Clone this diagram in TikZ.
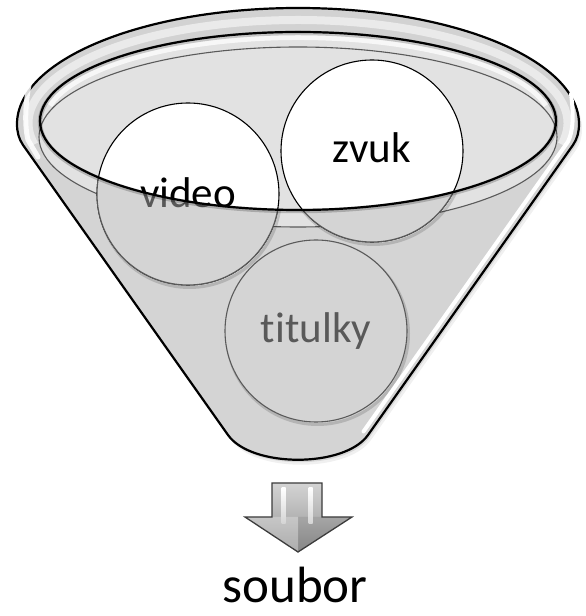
\documentclass[tikz,border=0pt]{standalone}
\usepackage{fontspec}
\setmainfont{Carlito}[Ligatures={NoCommon,NoRare,NoContextual}]
\definecolor{bodygray}{HTML}{D4D4D4}
\definecolor{opengray}{HTML}{E2E2E2}
\definecolor{rimgray}{HTML}{D2D2D2}
\definecolor{edgegray}{HTML}{5A5A5A}
\definecolor{textgray}{HTML}{595959}
\definecolor{arrowtop}{HTML}{D4D4D4}
\definecolor{arrowbot}{HTML}{929292}
\definecolor{arrowedge}{HTML}{3C3C3C}
% outline of the funnel: rounded rim on top, slanted sides, curved bottom
\newcommand\funnelpath{(17,492) arc[start angle=180,end angle=0,x radius=281,y radius=116]
  .. controls (579,484) and (577.2,477) .. (573,471) -- (368,181)
  .. controls (344.7,148) and (251.3,148) .. (228,181) -- (23,471)
  .. controls (18.8,477) and (17,484) .. (17,492) -- cycle}
\newcommand\arrowpath{(272,133) -- (322,133) -- (322,99) -- (352,99) -- (298,64) -- (245,99) -- (272,99) -- cycle}
\begin{document}
\begin{tikzpicture}[x=1pt,y=1pt,
  lbl/.style={inner sep=0pt, anchor=base, font=\fontsize{43}{50}\selectfont},
  ball/.style={circle, draw=black, fill=white, line width=1.1pt, minimum size=182pt, inner sep=0pt},
  frontball/.style={circle, draw=edgegray, fill=bodygray, line width=1.1pt, minimum size=182pt, inner sep=0pt},
  ballshadow/.style={draw=black, opacity=0.15, line width=3pt}]
\useasboundingbox (0,0) rectangle (586,616);

% soft shadow of the funnel
\fill[black, opacity=0.06, shift={(3,-5)}] \funnelpath;
\fill[black, opacity=0.10, shift={(1.5,-2.5)}] \funnelpath;

% funnel body
\fill[bodygray] \funnelpath;

% rim band
\begin{scope}
  \clip \funnelpath;
  \draw[rimgray, line width=26pt] (298,493) ++(-18:269.5 and 103)
    arc[start angle=-18, end angle=198, x radius=269.5, y radius=103];
  \draw[white, opacity=0.55, line width=8pt] (298,493) ++(-12:269.5 and 103)
    arc[start angle=-12, end angle=192, x radius=269.5, y radius=103];
\end{scope}

% opening and the space above the liquid
\fill[opengray] (298,495) ellipse[x radius=258, y radius=89];
\fill[opengray] (298,479) ellipse[x radius=259, y radius=90];
\begin{scope}
  \clip (298,495) ellipse[x radius=258, y radius=89];
  \draw[white, opacity=0.75, line width=16pt] (298,495) ++(12:258 and 89)
    arc[start angle=12, end angle=168, x radius=258, y radius=89];
\end{scope}

% liquid surface
\draw[edgegray, line width=1.1pt] (298,479) ellipse[x radius=259, y radius=90];

% balls in the opening
\node[ball] (video) at (188,422) {};
\node[ball] (zvuk) at (372,465) {};
\node[lbl] (video-t) at (188,408) {video};
\node[lbl] (zvuk-t) at (372,453) {zvuk};

% parts seen through the front wall
\begin{scope}
  \clip (0,495) -- (40,495) arc[start angle=180, end angle=360, x radius=258, y radius=89]
    -- (586,495) -- (586,0) -- (0,0) -- cycle;
  \draw[ballshadow] (189.5,419.5) circle[radius=91];
  \draw[ballshadow] (373.5,462.5) circle[radius=91];
  \node[frontball] (video-f) at (188,422) {};
  \node[frontball] (zvuk-f) at (372,465) {};
  \node[lbl, text=textgray] (video-ft) at (188,408) {video};
\end{scope}

% lower ball
\draw[ballshadow] (317.5,282.5) circle[radius=91];
\node[frontball] (titulky) at (316,285) {};
\node[lbl, text=textgray] (titulky-t) at (316,273) {titulky};

% front rim edge
\draw[black, opacity=0.2, line width=4.5pt] (298,494) ellipse[x radius=258, y radius=89];
\draw[black, line width=2.2pt] (298,495) ellipse[x radius=258, y radius=89];

% funnel outline
\draw[black, line width=2.2pt, line join=round] \funnelpath;

% glossy streaks along the edges
\draw[white, line width=4pt, line cap=round] (571,522) .. controls (574,500) and (573,485) .. (568.1,474.5) -- (363.5,184.5);
\draw[white, opacity=0.85, line width=5pt, line cap=round] (33,548) .. controls (25,520) and (24,492) .. (28,476) -- (38,459);

% arrow
\shade[top color=arrowtop, bottom color=arrowbot] \arrowpath;
\fill[black, opacity=0.08] (298,99) -- (352,99) -- (298,64) -- cycle;
\fill[white, opacity=0.25] (298,99) -- (245,99) -- (298,64) -- cycle;
\shade[top color=white, bottom color=arrowtop] (281.5,128) rectangle (285.5,92);
\shade[top color=white, bottom color=arrowtop] (308.5,128) rectangle (312.5,92);
\draw[arrowedge, line width=1.3pt, line join=miter] \arrowpath;

\node[inner sep=0pt, anchor=base, font=\fontsize{51}{60}\selectfont] (soubor) at (295,13) {soubor};
\end{tikzpicture}
\end{document}
